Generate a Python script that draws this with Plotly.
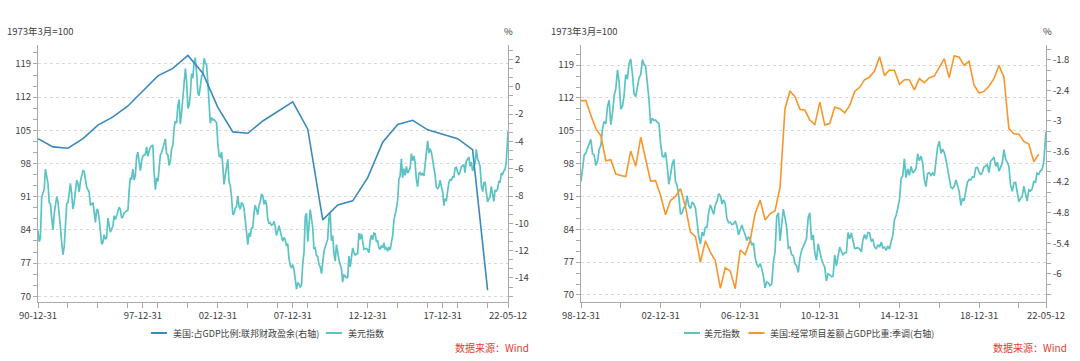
import plotly.graph_objects as go
import pandas as pd

# ---------------- data ----------------
# 美元指数 (month-end readings, 1990-12 .. 2022-04, then 2022-05-12)
dxy_1990s = [83.9,
             81.5, 82.3, 90.8, 91.8, 92.5, 96.8, 94.8, 93.8, 89.8, 89.5, 86.5, 84.0,
             87.5, 89.2, 91.0, 90.0, 87.9, 84.7, 81.2, 78.8, 80.5, 86.3, 89.5, 89.8,
             92.3, 93.8, 91.5, 88.4, 89.8, 92.5, 94.5, 93.8, 92.0, 94.3, 95.3, 96.5,
             96.3, 94.2, 93.0, 92.5, 92.0, 89.3, 89.4, 89.8, 87.8, 85.6, 88.4, 88.1,
             86.3, 84.2, 81.0, 81.3, 83.0, 82.0, 82.4, 86.5, 84.5, 83.5, 84.2, 84.8,
             87.0, 86.2, 87.0, 88.0, 88.8, 88.3, 86.5, 86.8, 87.6, 87.8, 88.1, 88.2,
             92.5, 95.0, 94.8, 96.8, 94.5, 95.5, 99.5, 100.4, 98.3, 96.5, 98.5, 99.6,
             99.8, 99.9, 101.5, 99.5, 100.6, 101.4, 101.7, 101.9, 96.0, 92.5, 95.0, 94.2,
             97.0, 99.8, 100.3, 101.4, 102.3, 103.2, 100.1, 99.8, 97.6, 98.5, 101.1, 101.9]
dxy_2000s = [105.5, 107.0, 106.5, 110.2, 111.5, 106.3, 108.8, 112.5, 114.0, 118.0, 115.3, 109.6,
             110.3, 112.5, 117.0, 116.0, 119.3, 120.3, 117.2, 112.9, 112.3, 114.3, 116.3, 117.0,
             120.2, 119.2, 118.8, 115.3, 111.8, 106.5, 107.7, 107.2, 107.3, 106.8, 106.6, 102.2,
             99.6, 99.4, 100.4, 97.6, 93.6, 95.5, 97.8, 98.9, 94.2, 93.3, 91.0, 87.2,
             87.5, 88.6, 88.9, 91.2, 89.0, 88.4, 89.8, 89.4, 88.5, 85.6, 82.4, 80.9,
             83.4, 82.6, 84.4, 84.4, 87.6, 89.2, 88.3, 87.2, 89.2, 90.0, 91.6, 91.2,
             89.4, 90.3, 89.4, 86.3, 85.4, 85.5, 85.0, 85.1, 85.8, 84.7, 82.8, 83.7,
             84.9, 83.8, 82.9, 81.6, 82.4, 81.9, 80.6, 81.1, 78.0, 76.5, 76.0, 76.7,
             75.6, 74.0, 71.5, 72.8, 72.6, 72.0, 72.3, 77.0, 79.2, 86.8, 87.5, 81.5,
             85.8, 88.3, 86.5, 84.5, 80.0, 80.2, 78.6, 78.4, 76.7, 76.2, 74.8, 77.9]
dxy_2010s = [79.5, 80.4, 81.2, 82.0, 86.5, 87.5, 81.7, 82.8, 79.0, 77.4, 80.9, 79.0,
             77.6, 76.7, 75.9, 73.0, 74.5, 74.3, 73.9, 74.0, 78.5, 76.2, 78.4, 80.2,
             79.3, 78.6, 79.0, 79.0, 83.3, 82.0, 83.2, 81.4, 79.9, 80.0, 80.1, 79.8,
             79.2, 81.8, 82.9, 81.9, 83.3, 83.2, 81.5, 81.8, 80.2, 79.9, 80.7, 80.2,
             81.3, 80.0, 80.2, 79.5, 80.4, 79.8, 81.5, 82.8, 86.0, 87.0, 88.5, 90.3,
             94.8, 95.3, 99.0, 95.0, 96.9, 95.5, 97.4, 96.0, 96.4, 97.0, 100.1, 98.6,
             99.6, 98.2, 94.6, 93.1, 95.9, 96.1, 95.5, 96.0, 95.4, 98.4, 101.5, 102.8,
             100.2, 101.1, 100.4, 99.0, 97.0, 95.6, 93.0, 92.7, 93.1, 94.5, 93.1, 92.1,
             89.1, 90.6, 90.1, 91.8, 94.0, 94.6, 94.5, 95.2, 95.1, 97.1, 97.2, 96.2,
             95.6, 96.2, 97.3, 97.5, 97.8, 96.1, 98.5, 98.9, 99.4, 97.4, 98.3, 96.4]
dxy_2020s = [97.4, 98.1, 101.0, 99.0, 98.3, 97.4, 93.4, 92.1, 93.9, 94.0, 91.9, 89.9,
             90.6, 90.9, 93.2, 91.3, 90.0, 92.4, 92.2, 92.6, 94.2, 94.1, 96.0, 95.7,
             96.5, 96.7, 98.3, 103.0, 104.8]

# 美国:占GDP比例:联邦财政盈余 (%), year-ends 1990..2020
fiscal_years = list(range(1990, 2021))
fiscal_surplus = [-3.8, -4.4, -4.5, -3.8, -2.8, -2.2, -1.4, -0.3, 0.8, 1.35,
                  2.3, 1.0, -1.5, -3.3, -3.4, -2.5, -1.8, -1.1, -3.1, -9.75,
                  -8.65, -8.35, -6.65, -4.05, -2.75, -2.45, -3.15, -3.45, -3.8, -4.6,
                  -14.9]

# 美国:经常项目差额占GDP比重:季调 (%), quarters 1998Q4 .. 2021Q4
current_account = [-2.60,
                   -2.60, -2.89, -3.15, -3.29,
                   -3.78, -3.76, -4.04, -4.07,
                   -4.09, -3.59, -3.89, -3.32,
                   -3.78, -4.18, -4.17, -4.46,
                   -4.84, -4.56, -4.48, -4.33,
                   -4.69, -5.18, -5.27, -5.77,
                   -5.35, -5.57, -5.74, -6.28,
                   -5.88, -5.94, -6.29, -5.53,
                   -5.62, -5.35, -4.82, -4.55,
                   -4.94, -4.82, -4.76, -4.30,
                   -2.76, -2.42, -2.52, -2.77,
                   -2.79, -2.98, -3.07, -2.63,
                   -3.08, -3.05, -2.73, -2.76,
                   -2.84, -2.70, -2.42, -2.34,
                   -2.19, -2.14, -2.02, -1.74,
                   -2.11, -2.00, -2.01, -2.28,
                   -2.19, -2.19, -2.39, -2.17,
                   -2.25, -2.15, -2.12, -1.96,
                   -1.78, -2.15, -1.72, -1.75,
                   -1.91, -1.83, -2.30, -2.45,
                   -2.42, -2.32, -2.17, -1.91,
                   -2.14, -3.15, -3.25, -3.26,
                   -3.40, -3.45, -3.80, -3.65]

left_tick_dates = ["1990-12-31", "1997-12-31", "2002-12-31", "2007-12-31",
                   "2012-12-31", "2017-12-31", "2022-05-12"]
left_tick_text = ["90-12-31", "97-12-31", "02-12-31", "07-12-31",
                  "12-12-31", "17-12-31", "22-05-12"]
right_tick_dates = ["1998-12-31", "2002-12-31", "2006-12-31", "2010-12-31",
                    "2014-12-31", "2018-12-31", "2022-05-12"]
right_tick_text = ["98-12-31", "02-12-31", "06-12-31", "10-12-31",
                   "14-12-31", "18-12-31", "22-05-12"]
y_left_ticks = [70, 77, 84, 91, 98, 105, 112, 119]
y2_ticks = [-14, -12, -10, -8, -6, -4, -2, 0, 2]
y4_ticks = [-6, -5.4, -4.8, -4.2, -3.6, -3, -2.4, -1.8]
y4_text = ["-6", "-5.4", "-4.8", "-4.2", "-3.6", "-3", "-2.4", "-1.8"]

name_fiscal = "美国:占GDP比例:联邦财政盈余(右轴)"
name_dxy = "美元指数"
name_ca = "美国:经常项目差额占GDP比重:季调(右轴)"

# ---------------- derived series ----------------
dxy = dxy_1990s + dxy_2000s + dxy_2010s + dxy_2020s
dxy_dates = list(pd.date_range("1990-12-31", periods=len(dxy) - 1,
                               freq=pd.offsets.MonthEnd()).strftime("%Y-%m-%d")) + ["2022-05-12"]
dxy_r_dates = [d for d in dxy_dates if d >= "1998-12-31"]
dxy_r = [v for d, v in zip(dxy_dates, dxy) if d >= "1998-12-31"]
fiscal_dates = [f"{y}-12-31" for y in fiscal_years]
ca_dates = list(pd.date_range("1998-12-31", periods=len(current_account),
                              freq=pd.offsets.QuarterEnd(startingMonth=12)).strftime("%Y-%m-%d"))

# ---------------- style ----------------
W, H = 1080, 361
FONT = "Noto Sans CJK SC"
BLUE = "#3a89bd"
TEAL = "#5bc3c3"
ORANGE = "#f8962a"
AXIS = "#a9a9a9"
TXT = "#404040"
GRID = "#d9d9d9"


def fx(p):
    return p / W


def fy(p):
    return 1 - p / H


ydom = [fy(302), fy(44.5)]

fig = go.Figure()
fig.add_trace(go.Scatter(x=dxy_dates, y=dxy, name=name_dxy, mode="lines",
                         line=dict(color=TEAL, width=1.7), xaxis="x", yaxis="y",
                         showlegend=False))
fig.add_trace(go.Scatter(x=fiscal_dates, y=fiscal_surplus, name=name_fiscal, mode="lines",
                         line=dict(color=BLUE, width=1.6), xaxis="x", yaxis="y2",
                         showlegend=False))
fig.add_trace(go.Scatter(x=dxy_r_dates, y=dxy_r, name=name_dxy, mode="lines",
                         line=dict(color=TEAL, width=1.7), xaxis="x2", yaxis="y3",
                         showlegend=False))
fig.add_trace(go.Scatter(x=ca_dates, y=current_account, name=name_ca, mode="lines",
                         line=dict(color=ORANGE, width=1.6), xaxis="x2", yaxis="y4",
                         showlegend=False))

tickfont = dict(family=FONT, size=9.5, color=TXT)
common = dict(showline=True, linecolor=AXIS, linewidth=1, ticks="outside",
              tickcolor=AXIS, ticklen=4, tickfont=tickfont, zeroline=False,
              automargin=False, fixedrange=True)


def xaxis(domain, anchor, rng, tv, tt, tick0):
    return dict(common, type="date", domain=domain, anchor=anchor, range=rng,
                tickmode="array", tickvals=tv, ticktext=tt, showgrid=False, ticklen=5,
                minor=dict(tickmode="linear", tick0=tick0, dtick="M24", ticks="outside",
                           ticklen=5, tickcolor=AXIS, showgrid=False))


def yleft(anchor, rng):
    return dict(common, domain=ydom, anchor=anchor, range=rng, tickmode="array",
                tickvals=y_left_ticks, ticktext=[str(v) for v in y_left_ticks],
                showgrid=True, gridcolor=GRID, gridwidth=1, griddash="dot",
                minor=dict(tickmode="linear", tick0=70, dtick=7 / 3, ticks="outside",
                           ticklen=4, tickcolor=AXIS, showgrid=False))


fig.update_layout(
    width=W, height=H, autosize=False,
    margin=dict(l=0, r=0, t=0, b=0, pad=0),
    paper_bgcolor="white", plot_bgcolor="white",
    font=dict(family=FONT, size=10, color=TXT),
    showlegend=False,
    xaxis=xaxis([fx(38), fx(508)], "y", ["1990-12-31", "2022-05-12"],
                left_tick_dates, left_tick_text, "1990-12-31"),
    yaxis=yleft("x", [68.8, 123.1]),
    yaxis2=dict(common, overlaying="y", side="right", anchor="x", range=[-15.76, 3.1],
                tickmode="array", tickvals=y2_ticks, ticktext=[str(v) for v in y2_ticks],
                showgrid=False,
                minor=dict(tickmode="linear", tick0=-14, dtick=2 / 3, ticks="outside",
                           ticklen=4, tickcolor=AXIS, showgrid=False)),
    xaxis2=xaxis([fx(581), fx(1046)], "y3", ["1998-12-31", "2022-05-12"],
                 right_tick_dates, right_tick_text, "1998-12-31"),
    yaxis3=yleft("x2", [68.5, 123.4]),
    yaxis4=dict(common, overlaying="y3", side="right", anchor="x2", range=[-6.55, -1.5],
                tickmode="array", tickvals=y4_ticks, ticktext=y4_text, showgrid=False,
                minor=dict(tickmode="linear", tick0=-6, dtick=0.2, ticks="outside",
                           ticklen=4, tickcolor=AXIS, showgrid=False)),
)

ann = []


def text(x, y, s, anchor="left", size=9.5, color=TXT):
    ann.append(dict(x=fx(x), y=fy(y), xref="paper", yref="paper", text=s,
                    showarrow=False, xanchor=anchor, yanchor="middle",
                    font=dict(family=FONT, size=size, color=color)))


# axis unit titles
text(5, 31, "1973年3月=100")
text(508.5, 31, "%", anchor="center")
text(548.5, 31, "1973年3月=100")
text(1047, 31, "%", anchor="center")

# legends (manual)
shapes = []


def sample(x0, x1, y, color):
    shapes.append(dict(type="line", xref="paper", yref="paper", x0=fx(x0), x1=fx(x1),
                       y0=fy(y), y1=fy(y), line=dict(color=color, width=2)))


sample(151, 167, 333, BLUE)
text(170.5, 333, name_fiscal, size=9)
sample(326, 342, 333, TEAL)
text(345.5, 333, name_dxy, size=9)
sample(684, 700, 333, TEAL)
text(702.5, 333, name_dxy, size=9)
sample(748.5, 764.5, 333, ORANGE)
text(767.5, 333, name_ca, size=9)

# sources
text(531, 347.5, "数据来源：Wind", anchor="right", size=10, color="#e23a32")
text(1069, 347.5, "数据来源：Wind", anchor="right", size=10, color="#e23a32")

fig.update_layout(annotations=ann, shapes=shapes)
fig.write_html("out.html", config={"displayModeBar": False},
               post_script="document.body.style.margin='0px';"
                           "document.body.style.overflow='hidden';")
